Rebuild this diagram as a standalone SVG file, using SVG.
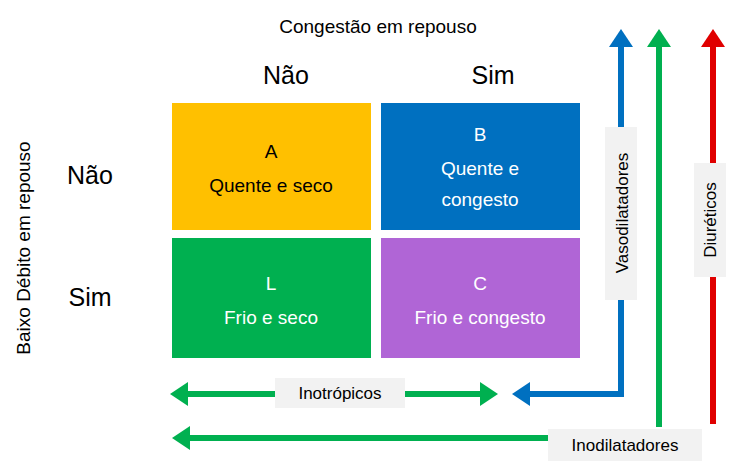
<svg xmlns="http://www.w3.org/2000/svg" width="740" height="464" viewBox="0 0 740 464">
<style>
text{font-family:"Liberation Sans",Arial,sans-serif;fill:#000}
.bt{fill:#fff;font-size:19px;text-anchor:middle}
.lb{fill:#f2f2f2}
.l{font-size:17px;text-anchor:middle}
</style>
<defs>
<marker id="ag" markerWidth="4" markerHeight="4" refX="2" refY="2" orient="auto-start-reverse" markerUnits="strokeWidth"><path d="M0,0L3,2L0,4z" fill="#00b050"/></marker>
<marker id="ab" markerWidth="4" markerHeight="4" refX="2" refY="2" orient="auto-start-reverse" markerUnits="strokeWidth"><path d="M0,0L3,2L0,4z" fill="#0070c0"/></marker>
<marker id="ar" markerWidth="4" markerHeight="4" refX="2" refY="2" orient="auto-start-reverse" markerUnits="strokeWidth"><path d="M0,0L3,2L0,4z" fill="#e00000"/></marker>
</defs>
<rect width="740" height="464" fill="#fff"/>
<text x="378" y="33" style="font-size:19px;text-anchor:middle">Congestão em repouso</text>
<text x="286" y="84" style="font-size:25px;text-anchor:middle">Não</text>
<text x="493" y="84" style="font-size:25px;text-anchor:middle">Sim</text>
<text x="90" y="184" style="font-size:25px;text-anchor:middle">Não</text>
<text x="90" y="306" style="font-size:25px;text-anchor:middle">Sim</text>
<text transform="translate(30,248) rotate(-90)" style="font-size:19px;text-anchor:middle">Baixo Débito em repouso</text>
<g id="nodeA"><rect x="172" y="103" width="199" height="127" fill="#ffc000"/><text class="bt" x="271" y="158" style="fill:#000">A</text><text class="bt" x="271" y="192" style="fill:#000">Quente e seco</text></g>
<g id="nodeB"><rect x="381" y="103" width="199" height="127" fill="#0070c0"/><text class="bt" x="480" y="141">B</text><text class="bt" x="480" y="175">Quente e</text><text class="bt" x="480" y="206">congesto</text></g>
<g id="nodeL"><rect x="172" y="238" width="199" height="120" fill="#00b050"/><text class="bt" x="271" y="290">L</text><text class="bt" x="271" y="324">Frio e seco</text></g>
<g id="nodeC"><rect x="381" y="238" width="199" height="120" fill="#b065d6"/><text class="bt" x="480" y="290">C</text><text class="bt" x="480" y="324">Frio e congesto</text></g>
<g id="connectors" fill="none" stroke-width="6">
<line x1="176" y1="394" x2="492" y2="394" stroke="#00b050" marker-start="url(#ag)" marker-end="url(#ag)"/>
<polyline points="621,35 621,394 518,394" stroke="#0070c0" marker-start="url(#ab)" marker-end="url(#ab)"/>
<line x1="659" y1="427" x2="659" y2="35" stroke="#00b050" marker-end="url(#ag)"/>
<line x1="713" y1="424" x2="713" y2="35" stroke="#e00000" marker-end="url(#ar)"/>
<line x1="550" y1="438" x2="178" y2="438" stroke="#00b050" marker-end="url(#ag)"/>
</g>
<g id="labels">
<rect class="lb" x="275" y="378" width="130" height="30"/><text class="l" x="340" y="399">Inotrópicos</text>
<rect class="lb" x="548" y="429" width="154" height="32"/><text class="l" x="625" y="451">Inodilatadores</text>
<rect class="lb" x="605" y="127" width="32" height="173"/><text class="l" transform="translate(628,213) rotate(-90)">Vasodilatadores</text>
<rect class="lb" x="694" y="163" width="32" height="114"/><text class="l" transform="translate(716,220) rotate(-90)">Diuréticos</text>
</g>
</svg>
